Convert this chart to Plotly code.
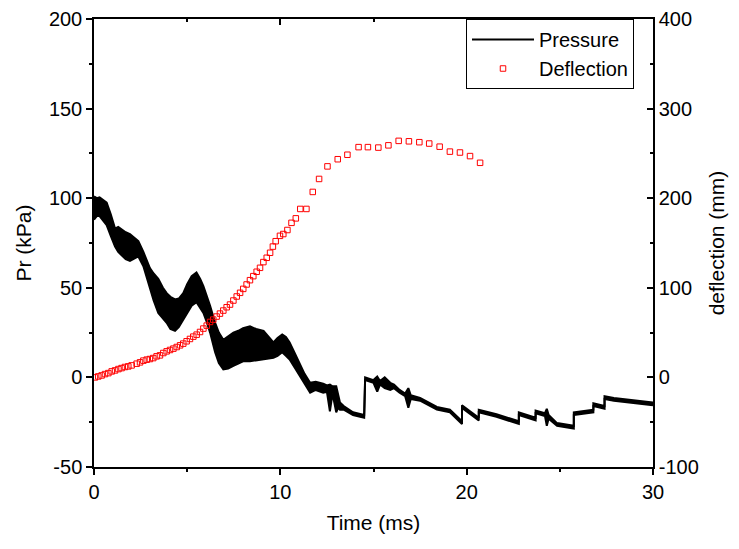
import plotly.graph_objects as go

# pressure signal: read as upper / lower edge of the noisy trace (kPa)
press_t = [0.0, 0.15, 0.3, 0.5, 0.68, 0.9, 1.13, 1.3, 1.48, 1.7,
           1.93, 2.15, 2.38, 2.65, 2.85, 3.0, 3.2, 3.45, 3.7, 3.9,
           4.1, 4.35, 4.55, 4.79, 5.0, 5.24, 5.5, 5.7, 5.87, 6.05,
           6.23, 6.5, 6.7, 6.94, 7.2, 7.48, 7.75, 8.0, 8.37, 8.7,
           9.1, 9.4, 9.63, 9.85, 10.1, 10.3, 10.5, 10.8, 11.06, 11.3,
           11.6, 11.9, 12.3, 12.5, 12.66, 12.8, 13.0, 13.1, 13.2, 13.4,
           13.9, 14.5, 14.55, 15.0, 15.2, 15.35, 15.6, 15.9, 16.1, 16.4,
           16.7, 16.87, 17.0, 17.5, 18.4, 19.1, 19.75, 19.75, 20.65, 20.65,
           21.6, 22.8, 22.8, 23.7, 23.7, 24.2, 24.3, 24.4, 24.85, 25.75,
           25.75, 26.8, 26.8, 27.4, 27.4, 27.9, 29.8, 30.0]
press_hi = [101, 100, 100.5, 99, 97.5, 91, 83, 84, 82.5, 81,
            80, 78, 76, 70, 65, 61, 58, 55, 50, 47,
            45, 43.5, 44, 47, 52, 56.5, 58.5, 55, 51, 46,
            40, 30.5, 25, 21, 23, 25, 26, 27.5, 28.5, 27,
            26, 22, 19.5, 22, 24, 22.5, 19.5, 13, 7, 2,
            -3, -2.5, -3.5, -4.5, -4, -5, -5, -10, -14, -16,
            -19.5, -21, 0, -1.5, 0.5, -2, 0, -3, -4, -7,
            -9, -6, -10, -11.5, -16.5, -18, -24.5, -15.5, -22.5, -18,
            -20.5, -24.5, -19.5, -22.5, -18.5, -20, -17.5, -21, -25.5, -27,
            -19.5, -18, -14.5, -16, -10.5, -11.5, -13.5, -14]
press_lo = [88, 90, 90, 87, 85, 79, 73, 70, 68, 66,
            65, 66, 67.5, 62, 55, 49, 43, 36, 33, 30.5,
            27, 26, 28, 32, 36, 40, 42, 39, 36, 31,
            25, 14, 8, 4.5, 5, 6.5, 8, 9, 9, 9.5,
            10, 10.5, 11, 12, 14, 12, 10, 5, 0.5, -4,
            -8.5, -7, -8.5, -8, -19, -9, -19.5, -17, -18, -18,
            -21, -22.5, -1.5, -3, -8, -4, -6, -7, -6, -8.5,
            -10.5, -17, -12, -13, -18, -19.5, -26, -17, -24, -19.5,
            -22, -26, -21, -24, -20, -21.5, -27, -23, -27, -28.5,
            -21, -19.5, -16, -17.5, -12, -13, -15, -15.5]

# deflection (mm)
defl_t = [0.05, 0.23, 0.41, 0.59, 0.77, 0.95, 1.13, 1.31, 1.48, 1.66,
          1.84, 2.02, 2.29, 2.47, 2.65, 2.83, 3.0, 3.18, 3.36, 3.54,
          3.72, 3.9, 4.08, 4.26, 4.44, 4.62, 4.79, 4.97, 5.15, 5.33,
          5.51, 5.69, 5.87, 6.05, 6.23, 6.4, 6.58, 6.76, 6.94, 7.12,
          7.3, 7.48, 7.66, 7.84, 8.01, 8.19, 8.37, 8.55, 8.73, 8.91,
          9.09, 9.27, 9.45, 9.6, 9.75, 9.98, 10.16, 10.38, 10.6, 10.83,
          11.07, 11.4, 11.74, 12.08, 12.53, 13.08, 13.6, 14.2, 14.7, 15.26,
          15.8, 16.35, 16.9, 17.46, 17.99, 18.55, 19.1, 19.64, 20.18, 20.72]
defl_mm = [0, 1.1, 2.2, 3.7, 4.8, 6.7, 7.8, 9.3, 10.4, 11.6,
           12.3, 13.4, 15.3, 16.8, 18.7, 19.8, 20.5, 21.6, 23.5, 24.6,
           27.2, 29.1, 30.6, 32.1, 33.9, 35.8, 37.7, 40.3, 42.9, 45.5,
           47.7, 50.7, 54.5, 57.8, 61.9, 64.5, 67.9, 71.2, 74.6, 78.3,
           81.3, 85.8, 90.3, 94.4, 98.8, 103.7, 108.5, 113, 117.9, 122.3,
           128.7, 133.5, 139.1, 146, 152, 158, 160, 164.5, 172.5, 177.5,
           188, 188, 207, 221.5, 235.5, 243.5, 248.5, 257, 257, 256.5,
           259, 264, 263.5, 262.5, 261, 257.5, 252, 251, 247, 239.5]

# tick labels (plain hyphen minus, as in the original)
pr_ticks = [-50, 0, 50, 100, 150, 200]
pr_labels = ["-50", "0", "50", "100", "150", "200"]
defl_ticks = [-100, 0, 100, 200, 300, 400]
defl_labels = ["-100", "0", "100", "200", "300", "400"]

FONT = "Liberation Sans, Arial, sans-serif"

fig = go.Figure()

# lower edge carries the legend entry, upper edge fills down to it
fig.add_trace(go.Scatter(x=press_t, y=press_lo, mode="lines", name="Pressure",
                         line=dict(color="black", width=2)))
fig.add_trace(go.Scatter(x=press_t, y=press_hi, mode="lines", fill="tonexty",
                         fillcolor="black", line=dict(color="black", width=2),
                         showlegend=False))

fig.add_trace(go.Scatter(x=defl_t, y=defl_mm, mode="markers", name="Deflection",
                         xaxis="x2", yaxis="y2",
                         marker=dict(symbol="square-open", size=5.5, color="red",
                                     line=dict(width=1, color="red"))))

# page body has an 8px margin, so the figure is sized to fit the window
fig.update_layout(
    width=731, height=541,
    margin=dict(l=86, r=86, t=11, b=82),
    paper_bgcolor="white", plot_bgcolor="white",
    font=dict(family=FONT, color="black"),
    legend=dict(x=(466 - 94) / 559, xanchor="left", y=1, yanchor="top",
                traceorder="normal", itemwidth=62,
                bordercolor="black", borderwidth=1, bgcolor="white",
                font=dict(size=20), tracegroupgap=0),
    xaxis=dict(range=[0, 30], dtick=10, showline=True, linecolor="black", linewidth=1.5,
               ticks="outside", ticklen=6, tickwidth=1.5, tickcolor="black",
               minor=dict(dtick=5, ticks="outside", ticklen=3, tickcolor="black"),
               showgrid=False, zeroline=False, tickfont=dict(size=20), automargin=False,
               title=dict(text="Time (ms)", font=dict(size=21), standoff=14)),
    xaxis2=dict(range=[0, 30], dtick=10, overlaying="x", side="top", anchor="y2",
                showline=True, linecolor="black", linewidth=1.5,
                ticks="inside", ticklen=6, tickwidth=1.5, tickcolor="black",
                minor=dict(dtick=5, ticks="inside", ticklen=3, tickcolor="black"),
                showticklabels=False, showgrid=False, zeroline=False, automargin=False),
    yaxis=dict(range=[-50, 200], tickvals=pr_ticks, ticktext=pr_labels,
               showline=True, linecolor="black", linewidth=1.5,
               ticks="outside", ticklen=6, tickwidth=1.5, tickcolor="black",
               minor=dict(dtick=25, ticks="outside", ticklen=3, tickcolor="black"),
               showgrid=False, zeroline=False, tickfont=dict(size=20), automargin=False,
               title=dict(text="Pr (kPa)", font=dict(size=21), standoff=12)),
    yaxis2=dict(range=[-100, 400], tickvals=defl_ticks, ticktext=defl_labels,
                overlaying="y", side="right", anchor="x",
                showline=True, linecolor="black", linewidth=1.5,
                ticks="inside", ticklen=6, tickwidth=1.5, tickcolor="black",
                minor=dict(dtick=50, ticks="inside", ticklen=3, tickcolor="black"),
                showgrid=False, zeroline=False, tickfont=dict(size=20), automargin=False,
                title=dict(text="deflection (mm)", font=dict(size=21), standoff=12)),
)

fig.write_html("out.html")
